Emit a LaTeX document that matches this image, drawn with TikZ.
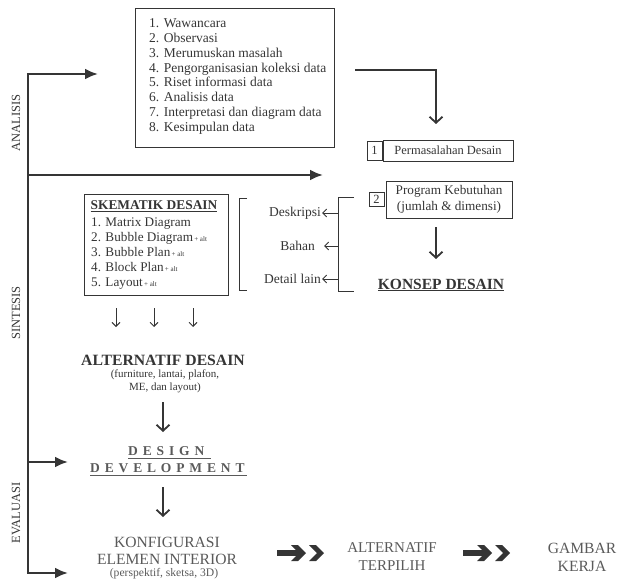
\documentclass[tikz,border=0pt]{standalone}
\usepackage{fontspec}
\setmainfont{Liberation Serif}
\usetikzlibrary{arrows.meta}
\definecolor{ink}{HTML}{353535}
\definecolor{soft}{HTML}{5A5A5A}
\begin{document}
\begin{tikzpicture}[x=1pt,y=-1pt,
  mainline/.style={draw=ink, line width=2.4pt},
  bighead/.style={-{Latex[length=13pt,width=11pt]}},
  vhead/.style={draw=ink, line width=1.8pt, -{Straight Barb[length=6pt,width=13pt,line width=1.8pt]}},
  thinhead/.style={draw=ink, line width=0.9pt, -{Straight Barb[length=4pt,width=8pt,line width=0.9pt]}},
  box/.style={draw=ink, line width=0.9pt, inner sep=0pt},
  txt/.style={text=ink, font=\fontsize{13.5}{14.86}\selectfont},
  lbl/.style={text=ink, font=\fontsize{13.5}{16}\selectfont, inner sep=1pt},
  side/.style={text=ink, rotate=90, font=\fontsize{12.5}{14}\selectfont},
  spaced/.style={text=soft, font=\fontsize{13.5}{15}\bfseries\addfontfeature{LetterSpace=36}, inner sep=0pt},
  dblchev/.pic={
    \fill[ink] (0,-2.6) rectangle (24,2.6);
    \fill[ink] (14,-8) -- (21,-8) -- (29,0) -- (21,8) -- (14,8) -- (22,0) -- cycle;
    \fill[ink] (32,-8) -- (39,-8) -- (47,0) -- (39,8) -- (32,8) -- (40,0) -- cycle;
  }]
\useasboundingbox (0,0) rectangle (618,580);

% ---- main spine ----
\coordinate (top) at (28,74);
\coordinate (midA) at (28,175);
\coordinate (midE) at (28,462);
\coordinate (bot) at (28,573);
\coordinate (topEnd) at (98,74);
\coordinate (midAEnd) at (323,175);
\coordinate (midEEnd) at (68,462);
\coordinate (botEnd) at (68,573);
\draw[mainline] (top) -- (bot);
\draw[mainline, bighead] ([xshift=-1.2pt]top) -- (topEnd);
\draw[mainline, bighead] (midA) -- (midAEnd);
\draw[mainline, bighead] (midE) -- (midEEnd);
\draw[mainline, bighead] ([xshift=-1.2pt]bot) -- (botEnd);

\node[side] (analisis) at (16,123) {ANALISIS};
\node[side] (sintesis) at (16,313) {SINTESIS};
\node[side] (evaluasi) at (16,513) {EVALUASI};

% ---- analysis list ----
\node[box, minimum width=199pt, minimum height=139pt, anchor=north west] (obs) at (135,8) {};
\node[txt, align=left, anchor=west, inner sep=0pt] (obslist) at (149,76.5)
 {1. Wawancara\\2. Observasi\\3. Merumuskan masalah\\4. Pengorganisasian koleksi data\\5. Riset informasi data\\6. Analisis data\\7. Interpretasi dan diagram data\\8. Kesimpulan data};

% ---- problem / program ----
\node[box, text=ink, font=\fontsize{12.5}{14}\selectfont, minimum width=130pt, minimum height=21pt] (perm) at (448,150.5) {Permasalahan Desain};
\node[box, text=ink, font=\fontsize{12.5}{14}\selectfont, minimum width=15pt, minimum height=19pt, anchor=east] (n1) at (perm.west) {1};
\node[box, text=ink, font=\fontsize{13.2}{15.5}\selectfont, align=center, minimum width=126pt, minimum height=37pt] (prog) at (449,199.5) {Program Kebutuhan\\(jumlah \& dimensi)};
\node[box, text=ink, font=\fontsize{12.5}{14}\selectfont, minimum width=15pt, minimum height=14pt] (n2) at (376.5,199.5) {2};

\coordinate (ahead) at (355,70);
\coordinate (atip) at (436,124);
\draw[vhead] (ahead) -| (atip);

\node[text=ink, font=\fontsize{15.5}{18}\bfseries] (konsep) at (441,285) {\underline{KONSEP DESAIN}};
\coordinate (kA) at (436,227);
\coordinate (kB) at (436,259);
\draw[vhead] (kA) -- (kB);

% ---- right bracket and labels ----
\coordinate (rbT) at (354,197);
\coordinate (rbB) at (354,291);
\draw[ink, line width=0.9pt] (rbT) -- (338,197) -- (338,291) -- (rbB);
\node[lbl, anchor=east] (desk) at (322,213) {Deskripsi};
\node[lbl, anchor=east] (bahan) at (316,246) {Bahan};
\node[lbl, anchor=east] (detail) at (322,279) {Detail lain};
\coordinate (d1) at (338,213);
\coordinate (d2) at (338,246);
\coordinate (d3) at (338,279);
\draw[thinhead] (d1) -- (desk.east);
\draw[thinhead] (d2) -- ([xshift=8pt]bahan.east);
\draw[thinhead] (d3) -- (detail.east);

% ---- left bracket ----
\draw[ink, line width=0.9pt] (247,198) -- (239,198) -- (239,290) -- (247,290);

% ---- skematik ----
\node[box, minimum width=144pt, minimum height=101pt, anchor=north west] (skem) at (84,194) {};
\node[text=ink, font=\fontsize{13.4}{15}\bfseries] (skemT) at (154,206) {\underline{SKEMATIK DESAIN}};
\node[text=ink, font=\fontsize{13.2}{15.2}\selectfont, align=left, anchor=west, inner sep=0pt] (skemL) at (91,253.5)
 {1. Matrix Diagram\\
  2. Bubble Diagram{\fontsize{7}{7}\selectfont\,+ alt}\\
  3. Bubble Plan{\fontsize{7}{7}\selectfont\,+ alt}\\
  4. Block Plan{\fontsize{7}{7}\selectfont\,+ alt}\\
  5. Layout{\fontsize{7}{7}\selectfont\,+ alt}};

\coordinate (s1a) at (116,308); \coordinate (s1b) at (116,327);
\coordinate (s2a) at (154,308); \coordinate (s2b) at (154,327);
\coordinate (s3a) at (193,308); \coordinate (s3b) at (193,327);
\draw[thinhead] (s1a) -- (s1b);
\draw[thinhead] (s2a) -- (s2b);
\draw[thinhead] (s3a) -- (s3b);

% ---- alternatif ----
\node[text=ink, font=\fontsize{15.7}{18}\bfseries] (alt) at (163,360) {ALTERNATIF DESAIN};
\node[text=ink, font=\fontsize{11}{13}\selectfont, align=center] (altsub) at (165,381) {(furniture, lantai, plafon,\\ME, dan layout)};
\coordinate (aA) at (163,402);
\coordinate (aB) at (163,432);
\draw[vhead] (aA) -- (aB);

\node[spaced, anchor=base west] (dd1) at (128,455) {DESIGN};
\node[spaced, anchor=base west] (dd2) at (90,472) {DEVELOPMENT};
\draw[soft, line width=0.8pt] (128,458) -- (211,458);
\draw[soft, line width=0.8pt] (90,475) -- (247,475);
\coordinate (dA) at (163,487);
\coordinate (dB) at (163,517);
\draw[vhead] (dA) -- (dB);

\node[text=soft, font=\fontsize{15.6}{16.5}\selectfont, align=center] (konf) at (167,551) {KONFIGURASI\\ELEMEN INTERIOR};
\node[text=soft, font=\fontsize{11.6}{13}\selectfont] (konfsub) at (164,574) {(perspektif, sketsa, 3D)};

\pic (ch1) at (277,553) {dblchev};
\node[text=soft, font=\fontsize{15}{18}\selectfont, align=center] (terpilih) at (392,557) {ALTERNATIF\\TERPILIH};
\pic (ch2) at (463,553) {dblchev};
\node[text=soft, font=\fontsize{15.6}{18}\selectfont, align=center] (gambar) at (582,557) {GAMBAR\\KERJA};
\end{tikzpicture}
\end{document}
